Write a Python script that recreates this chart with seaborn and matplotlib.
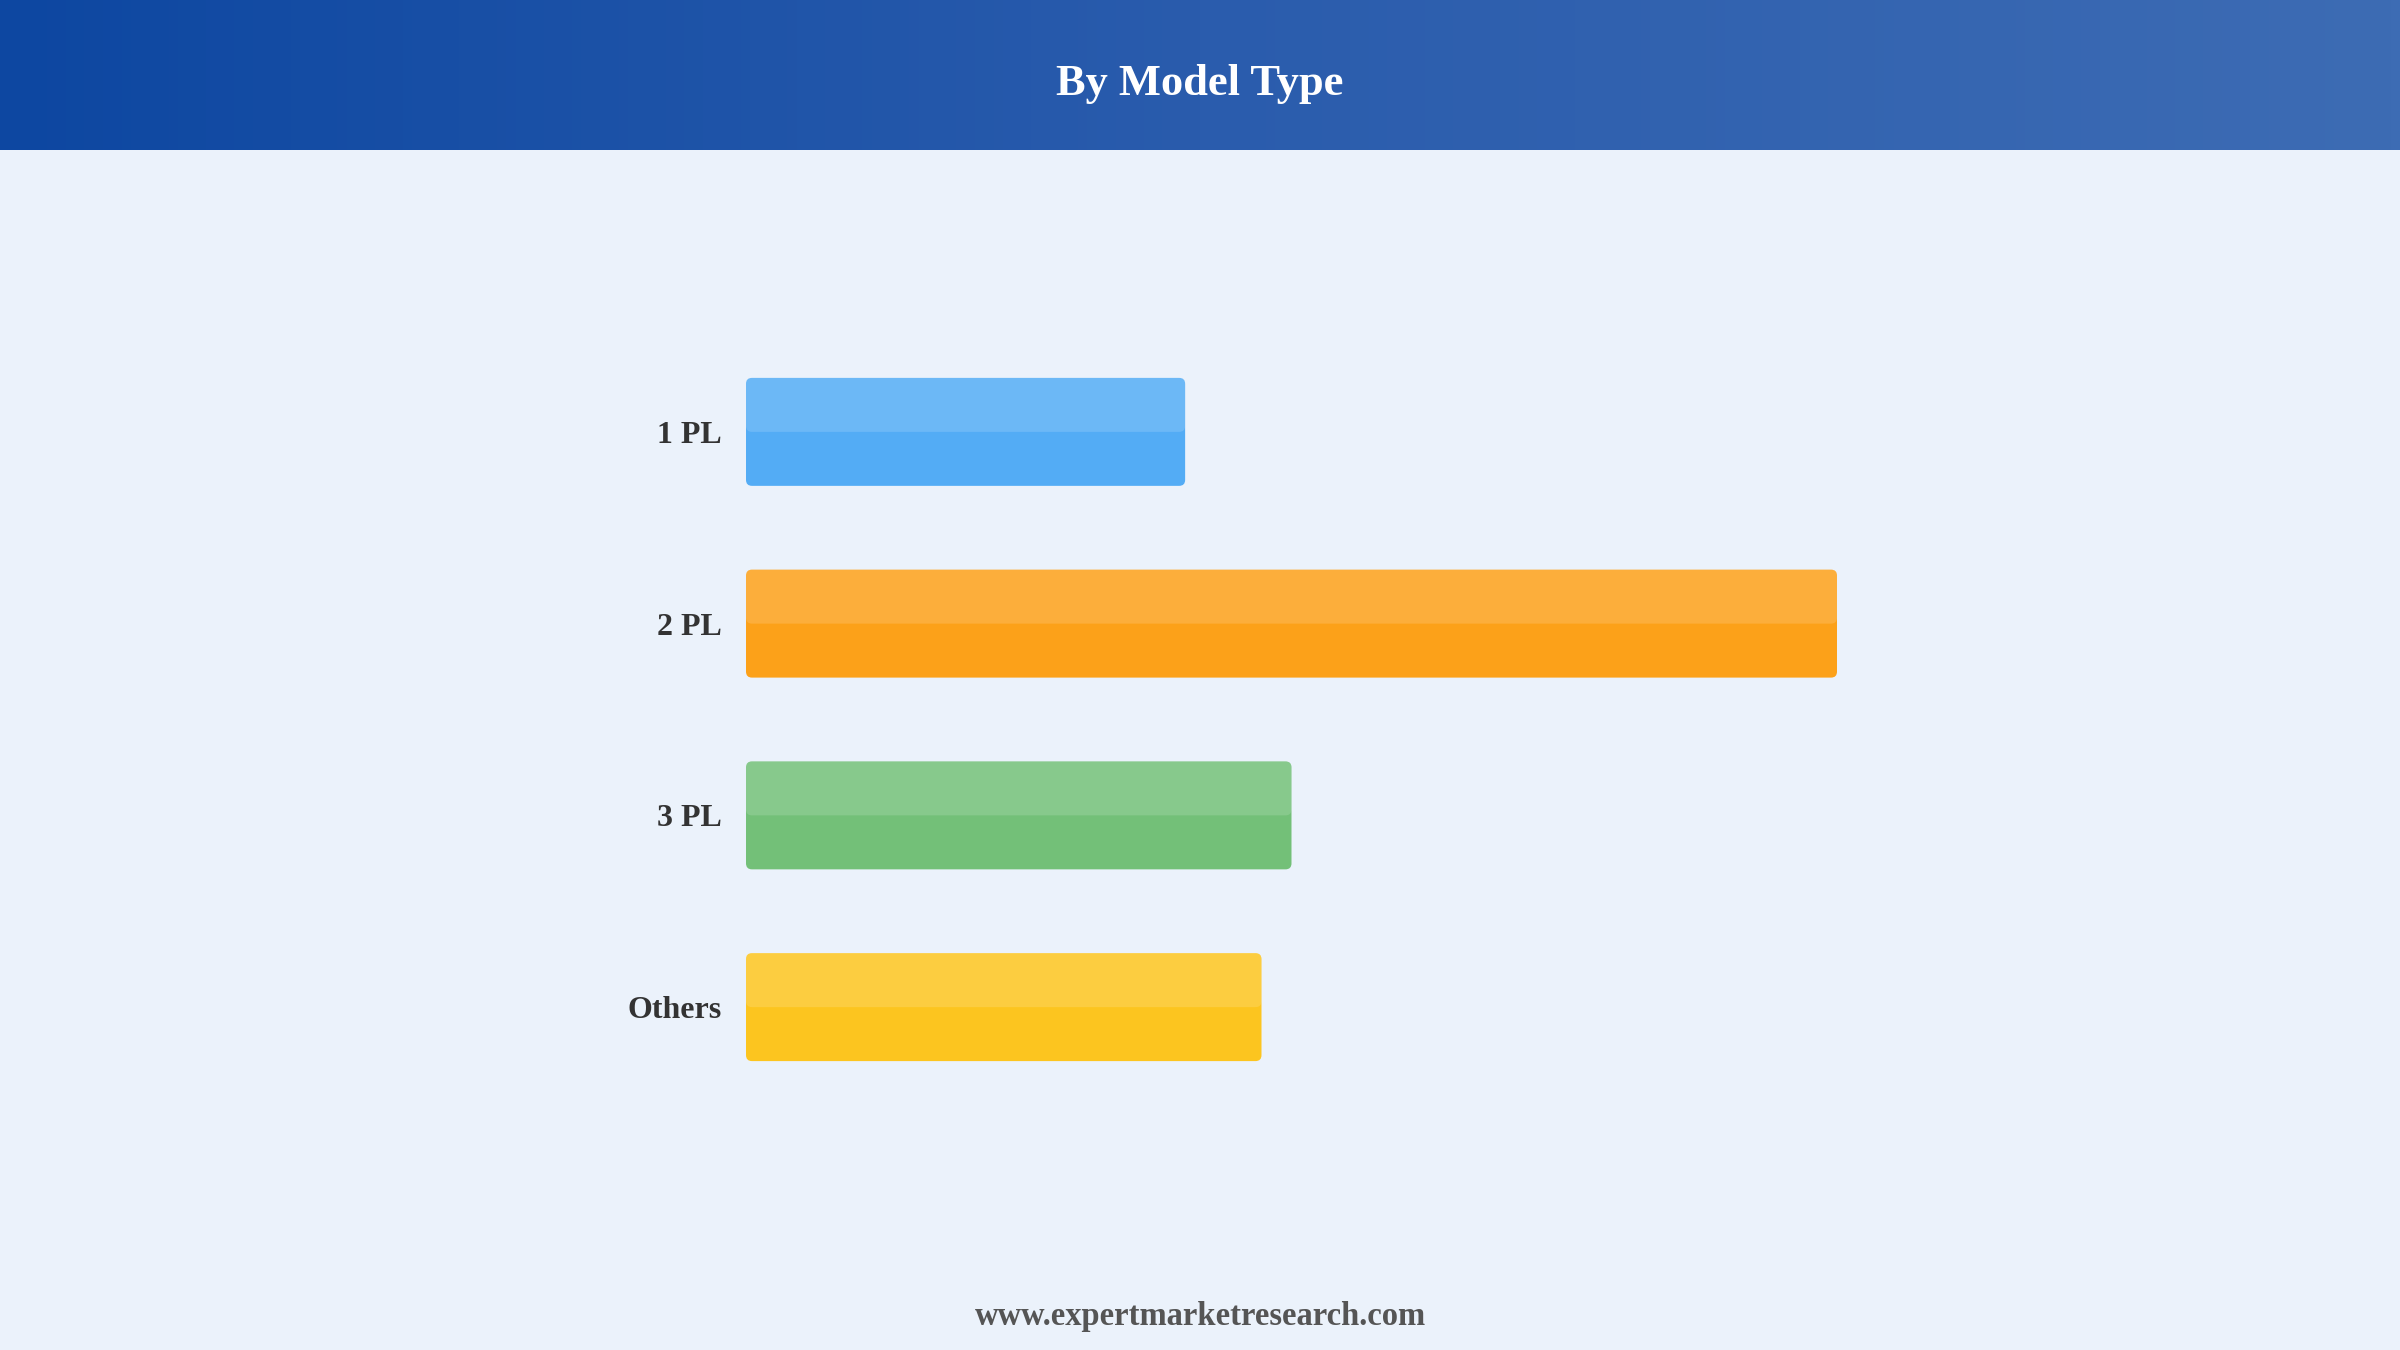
import numpy as np
import pandas as pd
import matplotlib
matplotlib.use("Agg")
import matplotlib.pyplot as plt
from matplotlib.patches import FancyBboxPatch
from matplotlib.colors import LinearSegmentedColormap
import seaborn as sns

# ---- data ----
categories = ["1 PL", "2 PL", "3 PL", "Others"]
values = [16.1, 40.0, 20.0, 18.9]
bar_colors = ["#42A5F5", "#FF9800", "#66BB6A", "#FFC107"]
title_text = "By Model Type"
footer_text = "www.expertmarketresearch.com"

BG = "#EBF2FB"
W, H = 2400, 1350
DPI = 100

sns.set_theme(style="white")
plt.rcParams["font.family"] = ["Liberation Serif", "DejaVu Serif"]

fig = plt.figure(figsize=(W / DPI, H / DPI), dpi=DPI, facecolor=BG)

# ---- header gradient ----
hdr_h = 150
hax = fig.add_axes([0, 1 - hdr_h / H, 1, hdr_h / H])
cmap = LinearSegmentedColormap.from_list("hdr", ["#0D47A1", "#2A5CAD", "#3D6CB4"])
hax.imshow(np.linspace(0, 1, 512)[None, :], aspect="auto", cmap=cmap,
           extent=[0, 1, 0, 1])
hax.set_axis_off()
hax.text(0.5, 0.44, title_text, color="white", fontsize=32, fontweight="bold",
         ha="center", va="center", transform=hax.transAxes)

# ---- bar axes ----
left_px, right_px = 746, 1900
top_px, bot_px = 336, 1103
ax = fig.add_axes([left_px / W, 1 - bot_px / H, (right_px - left_px) / W, (bot_px - top_px) / H])
ax.set_facecolor("none")

df = pd.DataFrame({"category": categories, "value": values})
bw = 0.563
sns.barplot(data=df, x="value", y="category", hue="category", palette=bar_colors,
            orient="h", width=bw, ax=ax, legend=False, dodge=False)

xmax = max(values) * (right_px - left_px) / 1091.0
ax.set_xlim(0, xmax)
ax.set_ylim(3.5, -0.5)

xpp = xmax / (right_px - left_px)
ypp = 4.0 / (bot_px - top_px)
r_px = 6
aspect = ypp / xpp

patches = list(ax.patches)
for p, c in zip(patches, bar_colors):
    x0, y0 = p.get_x(), p.get_y()
    w, h = p.get_width(), p.get_height()
    p.set_visible(False)
    main = FancyBboxPatch((x0, y0), w, h,
                          boxstyle=f"round,pad=0,rounding_size={r_px * xpp}",
                          mutation_aspect=aspect, facecolor=c, edgecolor="none",
                          alpha=0.9, zorder=3)
    ax.add_patch(main)
    hl = FancyBboxPatch((x0, y0), w, h / 2,
                        boxstyle=f"round,pad=0,rounding_size={r_px * xpp}",
                        mutation_aspect=aspect, facecolor="white", edgecolor="none",
                        alpha=0.15, zorder=4)
    ax.add_patch(hl)

ax.set_xlabel("")
ax.set_ylabel("")
ax.set_xticks([])
ax.tick_params(axis="y", length=0, pad=17.5)
for lbl in ax.get_yticklabels():
    lbl.set_fontsize(23)
    lbl.set_fontweight("bold")
    lbl.set_color("#333333")
for s in ax.spines.values():
    s.set_visible(False)

# ---- footer ----
fig.text(0.5, 1 - 1316 / H, footer_text, ha="center", va="center",
         fontsize=23.5, fontweight="bold", color="#555555")

fig.savefig("out.png", dpi=DPI, facecolor=BG)
